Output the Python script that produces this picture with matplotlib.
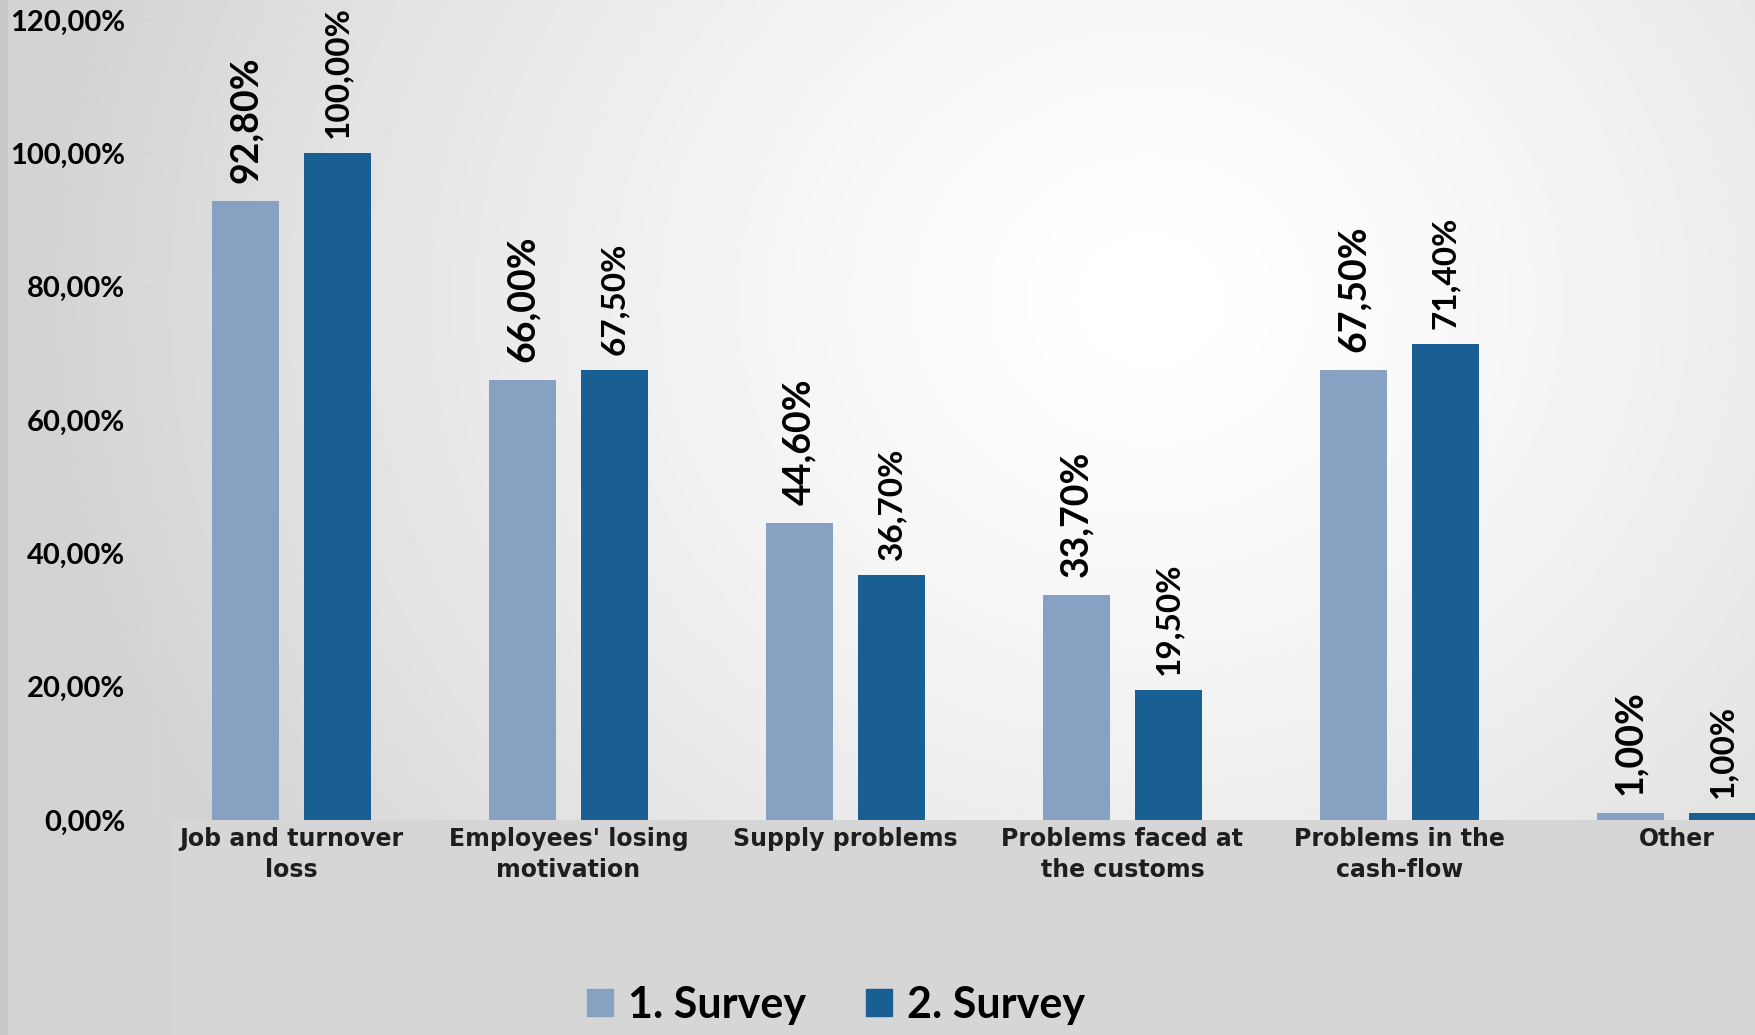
import numpy as np
import matplotlib
matplotlib.use("Agg")
import matplotlib.pyplot as plt
from matplotlib.patches import Rectangle, Patch

# Data
categories = [
    "Job and turnover\nloss",
    "Employees' losing\nmotivation",
    "Supply problems",
    "Problems faced at\nthe customs",
    "Problems in the\ncash-flow",
    "Other",
]
survey1 = [92.8, 66.0, 44.6, 33.7, 67.5, 1.0]
survey2 = [100.0, 67.5, 36.7, 19.5, 71.4, 1.0]
series_names = ["1. Survey", "2. Survey"]
y_ticks = [0, 20, 40, 60, 80, 100, 120]

LIGHT = "#87a1c2"
DARK = "#1a5f93"
W, H = 1756, 1035


def pct(v):
    return f"{v:.2f}%".replace(".", ",")


fig = plt.figure(figsize=(W / 100, H / 100), dpi=100)

# Background: soft radial gradient, grey box under the category labels
bg = fig.add_axes([0, 0, 1, 1], zorder=0)
yy, xx = np.mgrid[0:H, 0:W]
r = np.hypot((xx - 1150) / 1.0, (yy - 300) / 0.9)
grad = 1 - 0.17 * np.clip(r / 1100, 0, 1) ** 1.4
bg.imshow(grad, cmap="gray", vmin=0, vmax=1, extent=[0, W, H, 0], aspect="auto")
bg.add_patch(Rectangle((171, 820), W - 171, H - 820, color="#d6d6d6", lw=0))
bg.add_patch(Rectangle((0, 0), 8, H, color="#c9c9c9", lw=0))
bg.set_xlim(0, W)
bg.set_ylim(H, 0)
bg.axis("off")

# Main chart
left_px, bottom_px, top_px = 153, 820, 20
ax = fig.add_axes([left_px / W, 1 - bottom_px / H, 1 - left_px / W,
                   (bottom_px - top_px) / H], zorder=2)
ax.set_facecolor("none")

x = np.arange(len(categories))
off, bw = 0.166, 0.245
b1 = ax.bar(x - off, survey1, bw, color=LIGHT, label=series_names[0])
b2 = ax.bar(x + off, survey2, bw, color=DARK, label=series_names[1])

ax.bar_label(b1, labels=[pct(v) for v in survey1], rotation=90, padding=13,
             fontsize=27, fontweight="bold", family=["Lato", "DejaVu Sans"])
ax.bar_label(b2, labels=[pct(v) for v in survey2], rotation=90, padding=11,
             fontsize=24, fontweight="bold", family=["Lato", "DejaVu Sans"])

ax.set_xlim(-0.5, -0.5 + (W - left_px) / 277)
ax.set_ylim(0, 120)

ax.set_yticks(y_ticks)
ax.set_yticklabels([pct(v) for v in y_ticks], fontsize=21, fontweight="bold",
                   family=["Lato", "DejaVu Sans"])
ax.tick_params(axis="y", length=7, color="#d4d4d4", pad=13)

ax.set_xticks(x)
ax.set_xticklabels(categories, fontsize=17, fontweight="bold", color="#1e1e1e",
                   family="DejaVu Sans", linespacing=1.35)
ax.tick_params(axis="x", length=0, pad=5)

for name, spine in ax.spines.items():
    spine.set_visible(name == "left")
ax.spines["left"].set_color("#d8d8d8")

handles = [Patch(color=LIGHT), Patch(color=DARK)]
fig.legend(handles, series_names, loc="center", bbox_to_anchor=(0.476, 0.029),
           ncol=2, frameon=False, handlelength=0.6, handleheight=0.6,
           handletextpad=0.35, columnspacing=1.4,
           prop={"family": ["Lato", "DejaVu Sans"], "weight": "bold", "size": 31})

fig.savefig("out.png", dpi=100)
